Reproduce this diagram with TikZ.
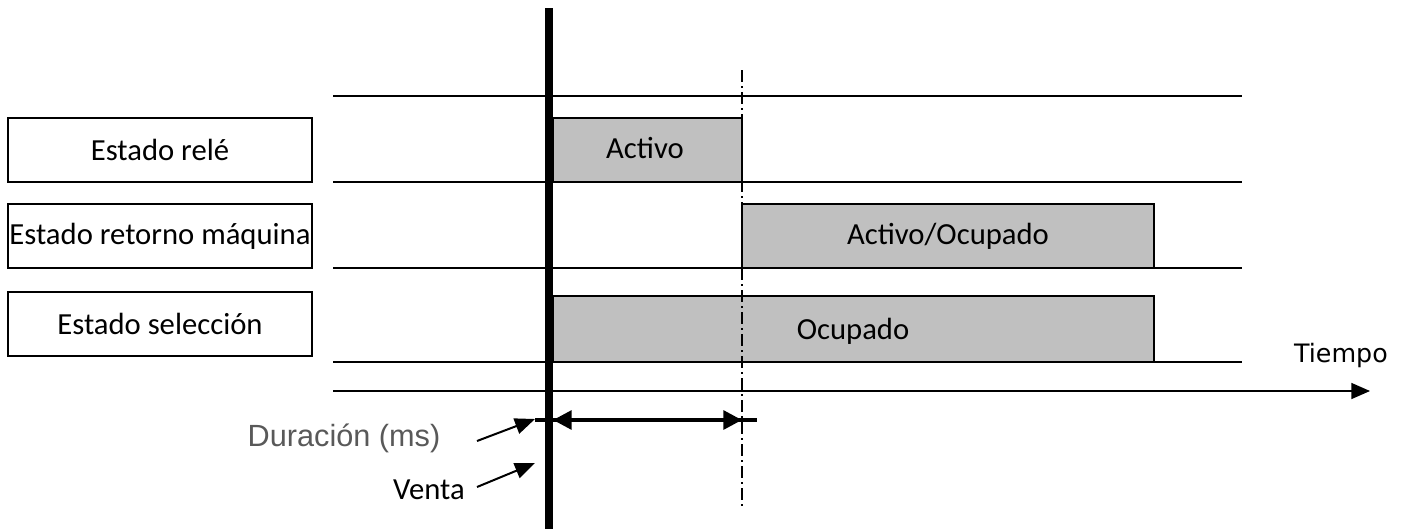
\documentclass[tikz,border=0pt]{standalone}
\usepackage{fontspec}
\usepackage{tikz}
\usetikzlibrary{arrows.meta}
\setmainfont{Carlito}
\newfontfamily\arialfont{Liberation Sans}
\newfontfamily\dejavufont{DejaVu Sans}
\definecolor{barfill}{HTML}{C0C0C0}
\definecolor{notegray}{HTML}{595959}

\begin{document}
\begin{tikzpicture}[x=0.75pt,y=-0.75pt,
  labelbox/.style={draw,line width=1.1pt,minimum width=228pt,minimum height=48pt,inner sep=0pt,font=\fontsize{23}{27}\selectfont},
  bar/.style={draw,line width=1.1pt,fill=barfill,inner sep=0pt,font=\fontsize{23}{27}\selectfont},
  row/.style={line width=1.1pt},
  note/.style={-{Triangle[length=15pt,width=12pt]},line width=1.5pt}]
\useasboundingbox (0,0) rectangle (1405,529);
% labels on the left
\node (rele) at (160,150) [labelbox] {Estado relé};
\node (retorno) at (160,236) [labelbox] {Estado retorno máquina};
\node (seleccion) at (160,324) [labelbox] {Estado selección};
%
\draw [row] (333,96) -- (1242,96);
\draw [row] (333,182) -- (1242,182);
\draw [row] (333,268) -- (1242,268);
\draw [row] (333,362) -- (1242,362);
%% state bars
\node (activo) [bar,minimum width=141.75pt,minimum height=48pt] at (647.5,150) {};
\node at (645,148) [font=\fontsize{23}{27}\selectfont] {Activo};
\node (ocupadoB) [bar,minimum width=309pt,minimum height=48pt] at (948,236) {Activo/Ocupado};
\node (ocupadoC) [bar,minimum width=450.75pt,minimum height=49.5pt] at (853.5,329) {};
\node at (853,331) [font=\fontsize{23}{27}\selectfont] {Ocupado};
%% time axis
\coordinate (t0) at (333,391);
\coordinate (t1) at (1370,391);
\draw [line width=1.1pt,-{Triangle[length=14pt,width=12pt]}] (t0) -- (t1);
\node (tiempo) at (1341,356) [font=\dejavufont\fontsize{19}{22}\selectfont] {Tiempo};
%% sale instant and end of pulse
\coordinate (vtop) at (549,8);
\coordinate (vbot) at (549,529);
\draw [line width=6pt] (vtop) -- (vbot);
\coordinate (etop) at (742,70);
\coordinate (ebot) at (742,508);
\draw [line width=1pt,dash pattern=on 9pt off 3pt on 1.5pt off 3pt] (etop) -- (ebot);
%% duration
\coordinate (d0) at (535,420);
\coordinate (d1) at (757,420);
\draw [line width=3pt] (d0) -- (d1);
\coordinate (dl) at (553,420);
\coordinate (dr) at (742,420);
\draw [line width=3pt,{Triangle[length=14pt,width=14pt]}-{Triangle[length=14pt,width=14pt]}] (dl) -- (dr);
%% notes
\node (duracion) at (344,438) [text=notegray,font=\arialfont\fontsize{23}{27}\selectfont] {Duración (ms)};
\node (venta) at (429,490) [font=\fontsize{23}{27}\selectfont] {Venta};
\coordinate (dtip) at (535,419);
\coordinate (vtip) at (535,463);
\draw [note] (477,441) -- (dtip);
\draw [note] (477,487) -- (vtip);
\end{tikzpicture}
\end{document}
